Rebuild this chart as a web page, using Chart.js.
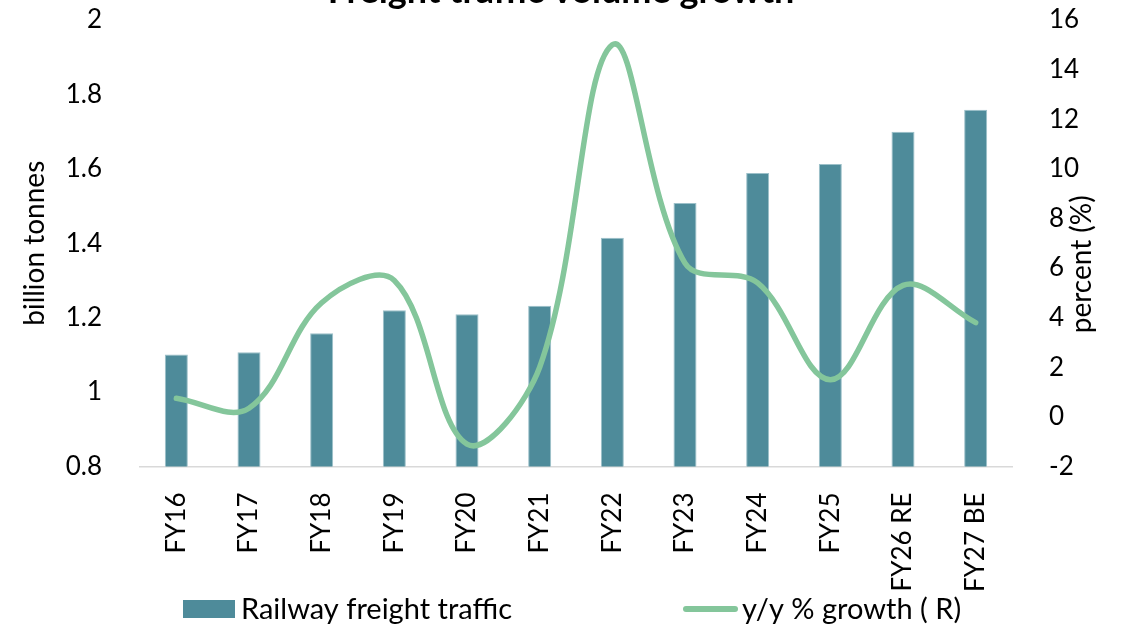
<!DOCTYPE html>
<html>
<head>
<meta charset="utf-8">
<script src="https://cdn.jsdelivr.net/npm/chart.js@4"></script>
<style>
  html, body { margin: 0; padding: 0; background: #ffffff; overflow: hidden; width: 1122px; height: 625px; }
  #wrap { position: absolute; left: 0; top: -30px; width: 1122px; height: 655px; }
</style>
</head>
<body>
<div id="wrap"><canvas id="c" width="1122" height="655"></canvas></div>
<script>
const titleText = 'Freight traffic volume growth';
const categories = ['FY16', 'FY17', 'FY18', 'FY19', 'FY20', 'FY21', 'FY22', 'FY23', 'FY24', 'FY25', 'FY26 RE', 'FY27 BE'];
const freightTraffic = [1.101, 1.107, 1.158, 1.220, 1.209, 1.232, 1.415, 1.508, 1.589, 1.613, 1.700, 1.759];
const growthPct = [0.75, 0.35, 4.6, 5.5, -1.1, 2.0, 15.0, 6.2, 5.4, 1.5, 5.3, 3.8];
const leftTicks = ['0.8', '1', '1.2', '1.4', '1.6', '1.8', '2'];
const rightTicks = ['-2', '0', '2', '4', '6', '8', '10', '12', '14', '16'];
const barLabel = 'Railway freight traffic';
const lineLabel = 'y/y % growth ( R)';
const leftTitle = 'billion tonnes';
const rightTitle = 'percent (%)';

const FONT = 'Lato';
const BAR_COLOR = '#4e8b9a';
const LINE_COLOR = '#84c69b';

const extrasPlugin = {
  id: 'extras',
  afterDraw(chart) {
    const ctx = chart.ctx;
    const area = chart.chartArea;
    const s = chart.scales.y1;
    ctx.save();
    // right axis title, reading bottom to top
    ctx.font = '28px ' + FONT;
    ctx.fillStyle = '#000000';
    ctx.textAlign = 'center';
    ctx.textBaseline = 'middle';
    ctx.save();
    ctx.translate(s.right - 40, (area.top + area.bottom) / 2 + 21);
    ctx.rotate(-Math.PI / 2);
    ctx.fillText(rightTitle, 0, 0);
    ctx.restore();
    // legend
    ctx.font = '29px ' + FONT;
    const cy = area.bottom + 142.5;
    const barDs = chart.data.datasets.find(d => d.type === 'bar');
    const lineDs = chart.data.datasets.find(d => d.type === 'line');
    ctx.textAlign = 'left';
    ctx.fillStyle = barDs.backgroundColor;
    ctx.fillRect(area.left + 43, cy - 9, 52, 18);
    ctx.fillStyle = '#000000';
    ctx.fillText(barDs.label, area.left + 101, cy + 1);
    ctx.strokeStyle = lineDs.borderColor;
    ctx.lineWidth = 6;
    ctx.lineCap = 'round';
    ctx.beginPath();
    ctx.moveTo(area.left + 546, cy);
    ctx.lineTo(area.left + 595, cy);
    ctx.stroke();
    ctx.fillText(lineDs.label, area.left + 602, cy + 1);
    ctx.restore();
  }
};

new Chart(document.getElementById('c'), {
  data: {
    labels: categories,
    datasets: [
      {
        type: 'line',
        label: lineLabel,
        data: growthPct,
        yAxisID: 'y1',
        borderColor: LINE_COLOR,
        backgroundColor: LINE_COLOR,
        borderWidth: 5.5,
        pointRadius: 0,
        tension: 0.36,
        borderCapStyle: 'round',
        order: 0
      },
      {
        type: 'bar',
        label: barLabel,
        data: freightTraffic,
        yAxisID: 'y',
        backgroundColor: BAR_COLOR,
        borderColor: '#9cc0c9',
        borderWidth: 1,
        categoryPercentage: 1,
        barPercentage: 0.317,
        order: 1
      }
    ]
  },
  plugins: [extrasPlugin],
  options: {
    responsive: false,
    animation: false,
    layout: { padding: { left: 0, right: 0, top: 0, bottom: 2 } },
    plugins: {
      title: {
        display: true,
        text: titleText,
        color: '#000000',
        font: { family: FONT, size: 36, weight: 'bold' },
        padding: { top: 0, bottom: 6.8 }
      },
      legend: { display: false },
      tooltip: { enabled: false }
    },
    scales: {
      x: {
        grid: { display: false },
        border: { display: true, color: '#d9d9d9', width: 1.5 },
        ticks: {
          color: '#000000',
          font: { family: FONT, size: 26 },
          minRotation: 90,
          maxRotation: 90,
          padding: 18,
          autoSkip: false
        },
        afterFit(scale) { scale.height = 156.5; }
      },
      y: {
        position: 'left',
        min: 0.8,
        max: 2,
        grid: { display: false },
        border: { display: false },
        ticks: {
          stepSize: 0.2,
          autoSkip: false,
          color: '#000000',
          font: { family: FONT, size: 26 },
          padding: 30,
          callback: (v, i) => leftTicks[i]
        },
        title: {
          display: true,
          text: leftTitle,
          color: '#000000',
          font: { family: FONT, size: 28 },
          padding: { top: 18, bottom: 0 }
        },
        afterFit(scale) { scale.width = 140; }
      },
      y1: {
        position: 'right',
        min: -2,
        max: 16,
        grid: { display: false },
        border: { display: false },
        ticks: {
          stepSize: 2,
          autoSkip: false,
          color: '#000000',
          font: { family: FONT, size: 26 },
          padding: 29,
          callback: (v, i) => rightTicks[i]
        },
        afterFit(scale) { scale.width = 110; }
      }
    }
  }
});
</script>
</body>
</html>
